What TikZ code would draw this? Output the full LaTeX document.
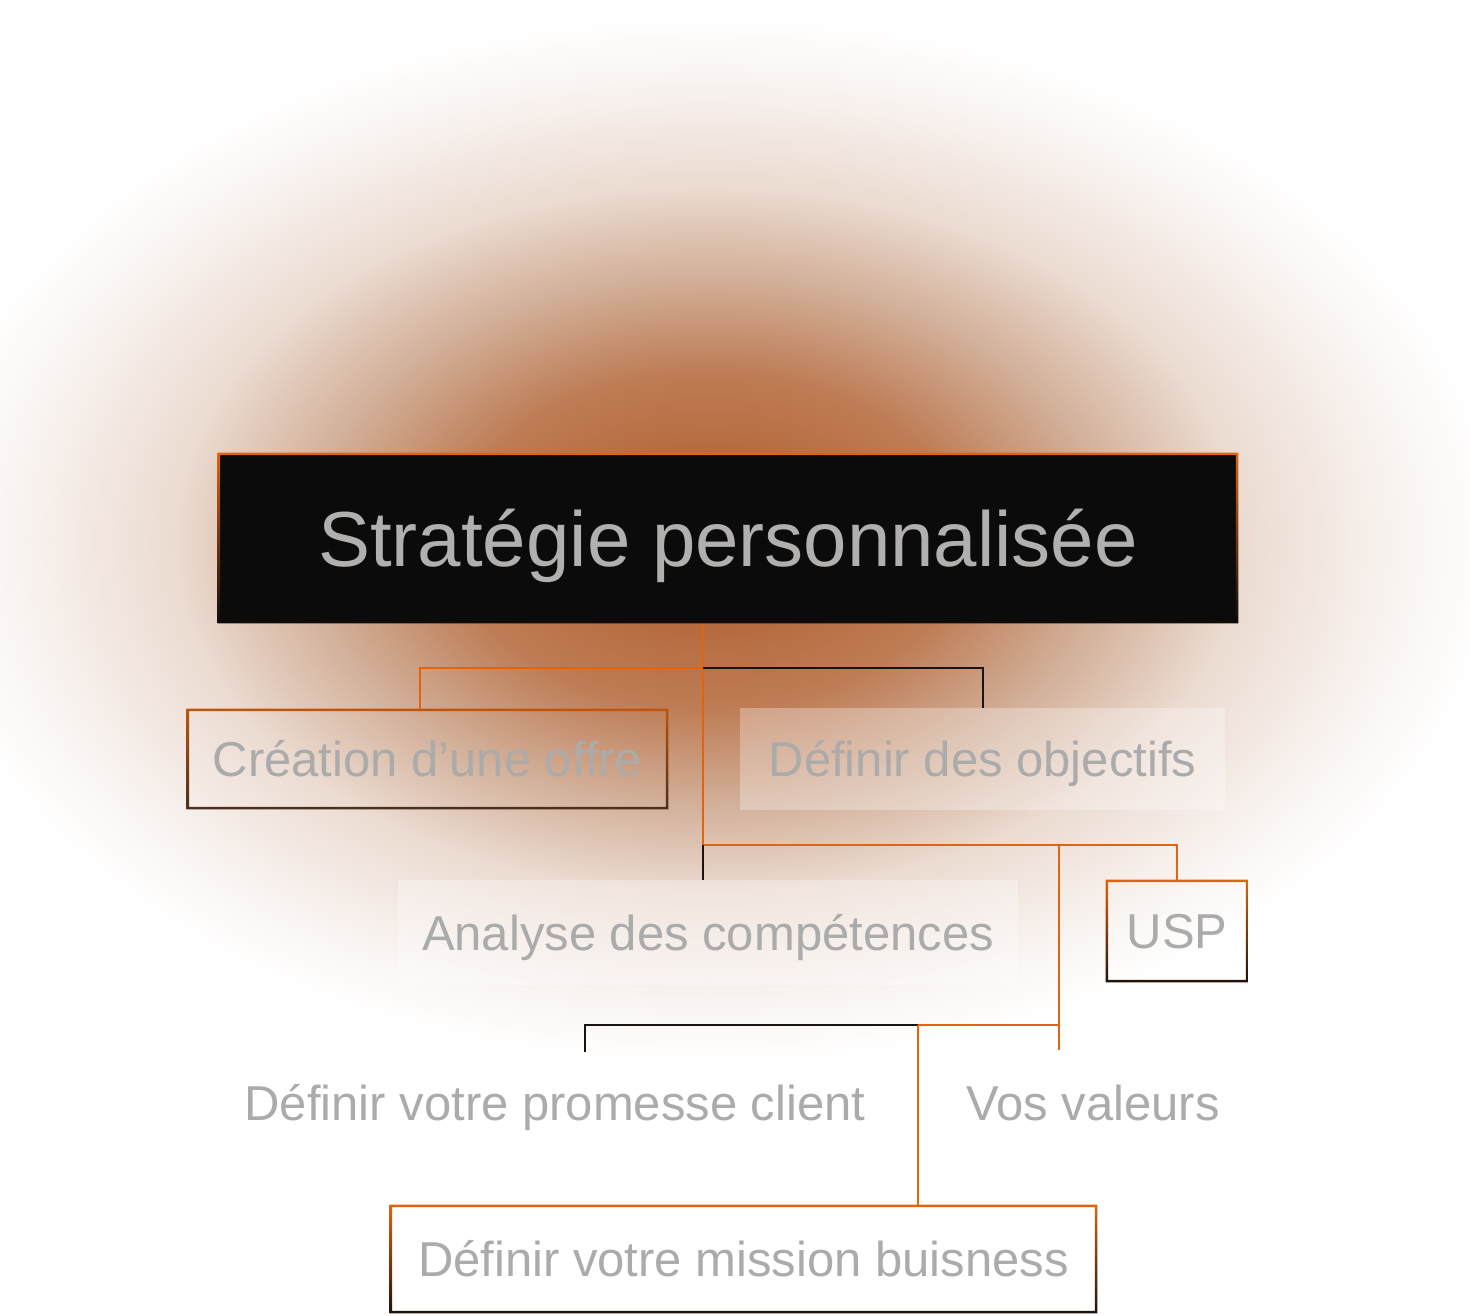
\documentclass[tikz,border=0pt]{standalone}
\usepackage{fontspec}
\setmainfont{Liberation Sans}
\definecolor{glowc}{HTML}{B4612F}
\definecolor{glowa}{HTML}{B66A3D}
\definecolor{glowb}{HTML}{BE7C55}
\definecolor{glowm}{HTML}{D2AF98}
\definecolor{glowl}{HTML}{ECDCD2}
\definecolor{glowf}{HTML}{F9F4F1}
\definecolor{orng}{HTML}{E2640F}
\definecolor{blk}{HTML}{1A1410}
\definecolor{boxblk}{HTML}{0B0B0B}
\definecolor{txtg}{HTML}{ABABAB}
\definecolor{txtm}{HTML}{B2B0AE}
\definecolor{brn}{HTML}{4A2E1E}
\definecolor{drk}{HTML}{1E120A}
\pgfdeclareradialshading{glow}{\pgfpoint{0bp}{0bp}}{color(0bp)=(glowc); color(4bp)=(glowa); color(8bp)=(glowb); color(12.5bp)=(glowm); color(17bp)=(glowl); color(22bp)=(glowf); color(25bp)=(white); color(50bp)=(white)}
\newcommand\gframe[3]{\shade[top color=#2, bottom color=#3, even odd rule]
  (#1.north west) rectangle (#1.south east)
  ([shift={(1.25pt,-1.25pt)}]#1.north west) rectangle ([shift={(-1.25pt,1.25pt)}]#1.south east);}
\begin{document}
\begin{tikzpicture}[x=0.5pt,y=-0.5pt,
  sz/.style 2 args={minimum width=#1*0.5pt, minimum height=#2*0.5pt, inner sep=0pt},
  subtxt/.style={text=txtg, font=\fontsize{24.5}{24.5}\selectfont, text height=17.5pt, text depth=0pt},
  faint/.style={fill=white, fill opacity=0.3, text opacity=1},
  oline/.style={draw=orng, line width=1pt},
  bline/.style={draw=blk, line width=1pt}]
\useasboundingbox (0,0) rectangle (1470,1315);
\fill[white] (0,0) rectangle (1470,1315);
\shade[shading=glow] (708,540) ellipse [x radius=395pt, y radius=262pt];

% nodes
\node[sz={1020}{170}, fill=boxblk, text=txtm, font=\fontsize{39}{39}\selectfont, text height=28pt, text depth=0pt] (main) at (728,538) {Stratégie personnalisée};
\node[sz={481}{100}, subtxt] (offre) at (427.5,759) {Création d’une offre};
\node[sz={485}{102}, subtxt, faint] (obj) at (982.5,759) {Définir des objectifs};
\node[sz={620}{105}, subtxt, faint] (ana) at (708,932.5) {Analyse des compétences};
\node[sz={142}{102}, subtxt] (usp) at (1177,931) {USP};
\node[sz={660}{106}, subtxt] (prom) at (555,1103) {Définir votre promesse client};
\node[sz={280}{106}, subtxt] (val) at (1093,1103) {Vos valeurs};
\node[sz={707}{108}, subtxt] (mission) at (743.5,1259) {Définir votre mission buisness};

% junctions
\coordinate (j1) at (703,668);
\coordinate (j2) at (703,845);
\coordinate (j3) at (1059,1025);
\coordinate (j4) at (918,1025);
\coordinate (c1) at (420,709);
\coordinate (c5) at (585,1052);

% connectors
\draw[oline] (j1 |- main.south) -- (j2);
\draw[oline] (j1) -| (c1);
\draw[bline] (j1) -| (obj.north);
\draw[oline] (j2) -| (usp.north);
\draw[bline] (j2) -- (j2 |- ana.north);
\draw[oline] (j2 -| j3) -- (j3 |- val.north);
\draw[oline] (j3) -- (j4);
\draw[bline] (j4) -| (c5);
\draw[oline] (j4) -- (j4 |- mission.north);

% frames
\gframe{main}{orng}{boxblk}
\gframe{offre}{orng!85!black}{brn}
\gframe{usp}{orng}{drk}
\gframe{mission}{orng}{drk}
\end{tikzpicture}
\end{document}
